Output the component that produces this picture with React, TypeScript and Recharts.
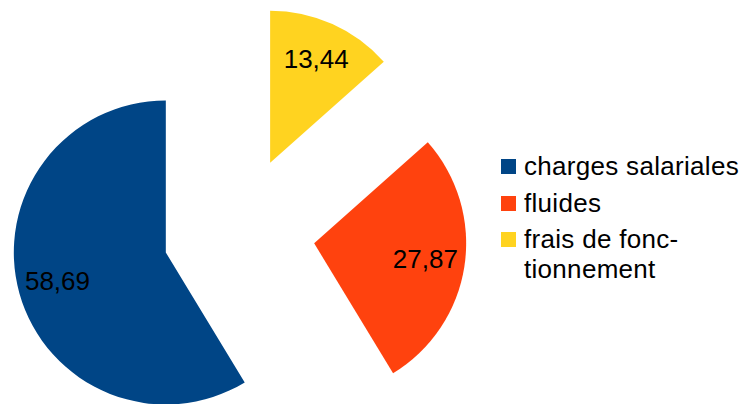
import React from "react";
import { PieChart, Pie, Cell, Legend } from "recharts";

const categories = ["charges salariales", "fluides", "frais de fonctionnement"];
const values = [58.69, 27.87, 13.44];
const colors = ["#004586", "#ff420e", "#ffd320"];
const legendLines = [["charges salariales"], ["fluides"], ["frais de fonc-", "tionnement"]];

const FONT = '"Liberation Sans", Arial, sans-serif';
const W = 747;
const H = 404;
const CX = 239;
const CY = 232;
const R = 152;
const EXPLODE = 76;
const RAD = Math.PI / 180;

const table = categories.map((name, i) => ({ name, value: values[i] }));
const total = values.reduce((a, b) => a + b, 0);

const offsets = values.map((v, i) => {
  const before = values.slice(0, i).reduce((a, b) => a + b, 0);
  const mid = 90 + (360 * (before + v / 2)) / total;
  return { dx: EXPLODE * Math.cos(mid * RAD), dy: -EXPLODE * Math.sin(mid * RAD) };
});

const fmt = (v: number) => v.toFixed(2).replace(".", ",");

const makeLabel = (i: number) => (p: any) => {
  if (p.index !== i) return null;
  const r = p.outerRadius * 0.74;
  const x = p.cx + r * Math.cos(-p.midAngle * RAD);
  const y = p.cy + r * Math.sin(-p.midAngle * RAD);
  return (
    <text
      x={x}
      y={y - 1.5}
      textAnchor="middle"
      dominantBaseline="central"
      fontSize={26}
      fontFamily={FONT}
      fill="#000"
    >
      {fmt(p.value)}
    </text>
  );
};

const LegendContent = () => (
  <div style={{ fontFamily: FONT, fontSize: 26, color: "#000", letterSpacing: "0.3px" }}>
    {legendLines.map((lines, i) => (
      <div
        key={i}
        style={{ display: "flex", alignItems: "flex-start", marginBottom: 6.7 }}
      >
        <div
          style={{
            width: 15,
            height: 15,
            background: colors[i],
            marginTop: 8,
            marginRight: 8,
            flex: "none",
          }}
        />
        <div style={{ lineHeight: "30px", whiteSpace: "nowrap" }}>
          {lines.map((l, j) => (
            <div key={j}>{l}</div>
          ))}
        </div>
      </div>
    ))}
  </div>
);

export default function App() {
  return (
    <div style={{ position: "absolute", left: 0, top: 0, width: W, height: H, background: "#fff" }}>
      <PieChart width={W} height={H} margin={{ top: 0, right: 0, bottom: 0, left: 0 }}>
        {values.map((_, i) => (
          <Pie
            key={i}
            data={table}
            dataKey="value"
            nameKey="name"
            cx={CX + offsets[i].dx}
            cy={CY + offsets[i].dy}
            outerRadius={R}
            startAngle={90}
            endAngle={450}
            stroke="none"
            isAnimationActive={false}
            label={makeLabel(i)}
            labelLine={false}
          >
            {table.map((_, j) => (
              <Cell key={j} fill={j === i ? colors[j] : "transparent"} stroke="none" />
            ))}
          </Pie>
        ))}
        <Legend
          layout="vertical"
          align="right"
          verticalAlign="top"
          content={LegendContent}
          wrapperStyle={{ left: 501, top: 151, width: 246 }}
        />
      </PieChart>
    </div>
  );
}
